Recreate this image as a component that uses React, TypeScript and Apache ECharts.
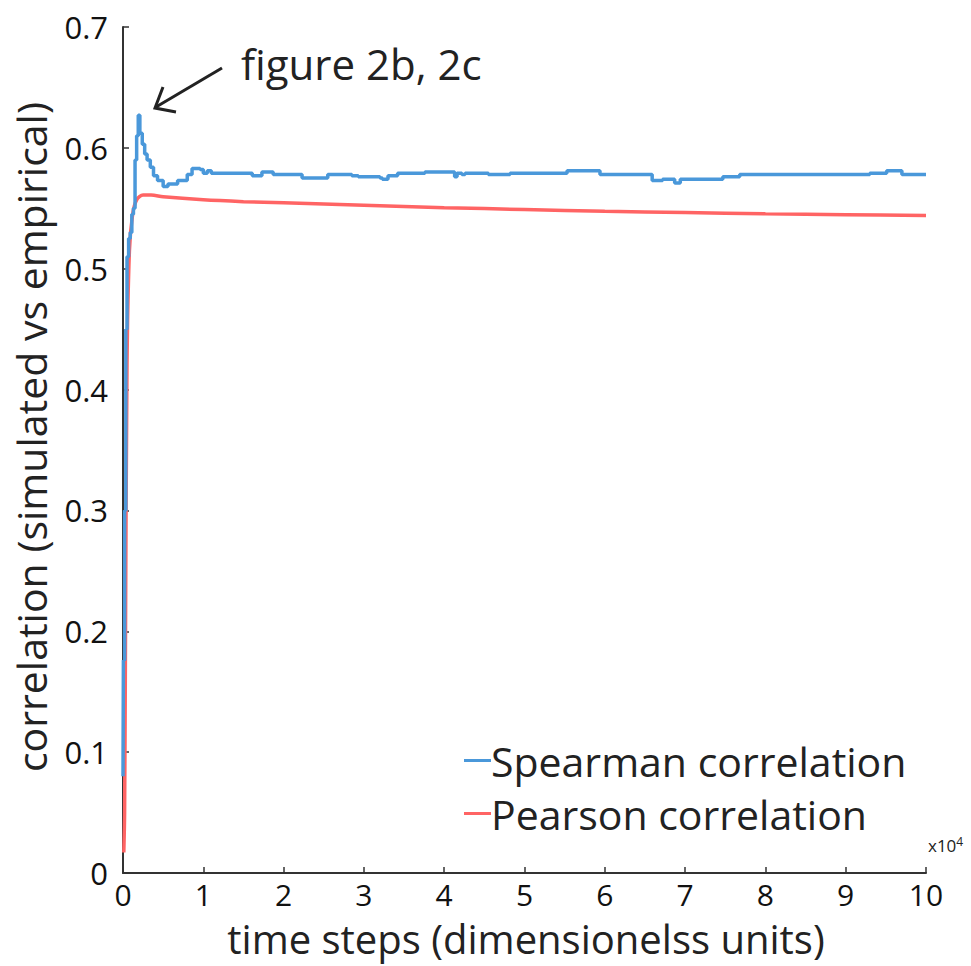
import React, { useEffect, useRef } from "react";
import * as echarts from "echarts";

// Spearman correlation: x (×10^4 time steps) where a level starts, and its value
const spearmanX = [0.0, 0.005, 0.02, 0.035, 0.05, 0.07, 0.09, 0.11, 0.13, 0.15, 0.17, 0.19, 0.21, 0.24, 0.27, 0.3, 0.34, 0.38, 0.43, 0.5, 0.56, 0.68, 0.8, 0.86, 0.96, 1.0, 1.05, 1.1, 1.54, 1.61, 1.73, 1.87, 2.23, 2.55, 2.85, 2.93, 3.2, 3.23, 3.3, 3.42, 3.76, 4.13, 4.16, 4.22, 4.26, 4.55, 4.82, 5.53, 5.94, 6.59, 6.72, 6.87, 6.94, 7.47, 7.68, 9.3, 9.51, 9.7, 10.0];
const spearmanY = [0.08, 0.176, 0.3, 0.45, 0.51, 0.525, 0.53, 0.545, 0.55, 0.59, 0.61, 0.627, 0.612, 0.603, 0.595, 0.59, 0.584, 0.577, 0.573, 0.568, 0.57, 0.573, 0.578, 0.583, 0.582, 0.579, 0.581, 0.579, 0.579, 0.577, 0.58, 0.578, 0.575, 0.578, 0.577, 0.576, 0.575, 0.574, 0.577, 0.579, 0.58, 0.576, 0.579, 0.578, 0.579, 0.578, 0.579, 0.581, 0.578, 0.573, 0.574, 0.571, 0.574, 0.576, 0.578, 0.579, 0.581, 0.578, 0.578];

// Pearson correlation
const pearsonX = [0.01, 0.02, 0.03, 0.05, 0.08, 0.12, 0.17, 0.25, 0.35, 0.5, 1.0, 1.5, 2, 3, 4, 5, 6, 7, 8, 9, 10];
const pearsonY = [0.017, 0.05, 0.18, 0.42, 0.515, 0.545, 0.557, 0.561, 0.561, 0.5595, 0.557, 0.5555, 0.5545, 0.5525, 0.5505, 0.549, 0.5475, 0.5465, 0.5455, 0.5447, 0.544];

const xTicks = [0, 1, 2, 3, 4, 5, 6, 7, 8, 9, 10];
const yTicks = [0, 0.1, 0.2, 0.3, 0.4, 0.5, 0.6, 0.7];

const xTitle = "time steps (dimensionelss units)";
const yTitle = "correlation (simulated vs empirical)";

const FONT = "Open Sans";

export default function App() {
  const ref = useRef<HTMLDivElement>(null);
  useEffect(() => {
    if (!ref.current) return;
    const chart = echarts.init(ref.current, null, { renderer: "svg" });
    const axisColor = "#333";
    chart.setOption({
      animation: false,
      backgroundColor: "#fff",
      grid: { left: 123, right: 45, top: 27, bottom: 93, containLabel: false, outerBoundsMode: "none" },
      xAxis: {
        type: "value",
        min: 0,
        max: 10,
        interval: 1,
        axisLine: { show: true, lineStyle: { color: axisColor, width: 2 } },
        axisTick: { show: true, inside: true, length: 6, lineStyle: { color: axisColor, width: 1.5 } },
        axisLabel: {
          fontFamily: FONT,
          fontSize: 30,
          lineHeight: 30,
          color: "#111",
          margin: 6,
          formatter: (v: number) => (xTicks.includes(Math.round(v)) ? String(Math.round(v)) : ""),
        },
        splitLine: { show: false },
      },
      yAxis: {
        type: "value",
        min: 0,
        max: 0.7,
        interval: 0.1,
        axisLine: { show: true, lineStyle: { color: axisColor, width: 2 } },
        axisTick: { show: true, inside: true, length: 6, lineStyle: { color: axisColor, width: 1.5 } },
        axisLabel: {
          fontFamily: FONT,
          fontSize: 31,
          color: "#111",
          margin: 15,
          formatter: (v: number) => {
            const r = Math.round(v * 10) / 10;
            return yTicks.includes(r) ? (r === 0 ? "0" : r.toFixed(1)) : "";
          },
        },
        splitLine: { show: false },
      },
      legend: {
        orient: "vertical",
        left: 459,
        top: 735,
        itemWidth: 27,
        itemHeight: 3,
        itemGap: 12,
        icon: "rect",
        textStyle: { fontFamily: FONT, fontSize: 41, color: "#222", padding: [0, 0, 0, -5] },
        data: ["Spearman correlation", "Pearson correlation"],
      },
      series: [
        {
          name: "Spearman correlation",
          type: "line",
          step: "end",
          showSymbol: false,
          symbol: "none",
          lineStyle: { color: "#4A98DA", width: 3.5 },
          itemStyle: { color: "#4A98DA" },
          data: spearmanX.map((x, i) => [x, spearmanY[i]]),
          z: 3,
        },
        {
          name: "Pearson correlation",
          type: "line",
          smooth: 0.3,
          showSymbol: false,
          symbol: "none",
          lineStyle: { color: "#FF6464", width: 3.5 },
          itemStyle: { color: "#FF6464" },
          data: pearsonX.map((x, i) => [x, pearsonY[i]]),
          z: 2,
        },
      ],
      graphic: [
        {
          type: "text",
          x: 31,
          y: 437,
          rotation: Math.PI / 2,
          style: {
            text: yTitle,
            fontFamily: FONT,
            fontSize: 41,
            fill: "#222",
            align: "center",
            verticalAlign: "middle",
          },
        },
        {
          type: "text",
          x: 526,
          y: 938,
          style: {
            text: xTitle,
            fontFamily: FONT,
            fontSize: 40,
            lineHeight: 40,
            fill: "#222",
            align: "center",
            verticalAlign: "middle",
          },
        },
        {
          type: "text",
          left: 928,
          top: 835,
          style: {
            text: "x10{s|4}",
            fontFamily: FONT,
            fontSize: 17,
            fill: "#222",
            rich: { s: { fontSize: 12, verticalAlign: "top", padding: [0, 0, 8, 0], fontFamily: FONT, fill: "#222" } },
          },
        },
        {
          type: "text",
          left: 241,
          top: 42,
          style: { text: "figure 2b, 2c", fontFamily: FONT, fontSize: 42, fill: "#222" },
        },
        {
          type: "line",
          shape: { x1: 222, y1: 68, x2: 156, y2: 107 },
          style: { stroke: "#222", lineWidth: 3 },
        },
        {
          type: "polyline",
          shape: { points: [[163, 87], [155, 108], [176, 112]] },
          style: { stroke: "#222", lineWidth: 3, fill: null },
        },
      ],
    });
    return () => chart.dispose();
  }, []);
  return <div ref={ref} style={{ width: 971, height: 966, position: "absolute", left: 0, top: 0 }} />;
}
